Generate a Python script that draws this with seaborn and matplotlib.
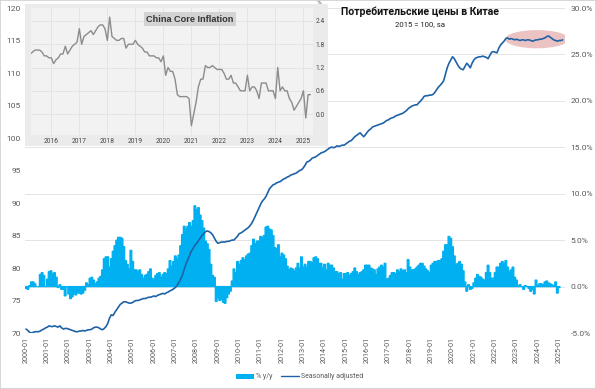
import numpy as np
import pandas as pd
import matplotlib
matplotlib.use("Agg")
import matplotlib.pyplot as plt
import seaborn as sns
from matplotlib.patches import Ellipse, Rectangle, Patch
from matplotlib.lines import Line2D

# ---------------- data ----------------
tick_labels = ["2000-01", "2001-01", "2002-01", "2003-01", "2004-01", "2005-01", "2006-01",
               "2007-01", "2008-01", "2009-01", "2010-01", "2011-01", "2012-01", "2013-01",
               "2014-01", "2015-01", "2016-01", "2017-01", "2018-01", "2019-01", "2020-01",
               "2021-01", "2022-01", "2023-01", "2024-01", "2025-01"]

# % y/y, one value per monthly slot of the chart
yoy_pct = [
    -0.2, -0.3, 0.1, 0.5, 0.5, 0.3, 0.0, 0.0, 1.3, 1.5,
    1.2, 0.0, 0.8, 1.6, 1.7, 1.4, 1.5, 1.0, -0.1, 0.2, -0.3, -0.3,
    -1.0, 0.0, -0.8, -1.3, -1.1, -0.8, -0.9, -0.7, -0.7, -0.8, -0.7, -0.4,
    0.4, 0.2, 0.9, 1.0, 0.7, 0.3, 0.5, 0.9, 1.1, 1.8, 3.0, 3.2,
    3.2, 2.1, 3.0, 3.8, 4.4, 5.0, 5.3, 5.3, 5.2, 4.3, 2.8, 2.4,
    1.9, 3.9, 2.7, 1.8, 1.8, 1.6, 1.8, 1.3, 0.9, 1.2, 1.3, 1.6,
    1.9, 0.9, 0.8, 1.2, 1.4, 1.5, 1.0, 1.3, 1.5, 1.4, 1.9, 2.8,
    2.2, 2.7, 3.3, 3.0, 3.4, 4.4, 5.6, 6.5, 6.2, 6.5, 6.9, 6.5,
    7.1, 8.7, 8.3, 8.5, 7.7, 7.1, 6.3, 4.9, 4.6, 4.0, 2.4, 1.2,
    1.0, -1.6, -1.2, -1.5, -1.4, -1.7, -1.8, -1.2, -0.8, -0.5, 0.6, 1.9,
    1.5, 2.7, 2.4, 2.8, 3.1, 2.9, 3.3, 3.5, 3.6, 4.4, 5.1, 4.6,
    4.9, 4.9, 5.4, 5.3, 5.5, 6.4, 6.5, 6.2, 6.1, 5.5, 4.2, 4.1,
    4.5, 3.2, 3.6, 3.4, 3.0, 2.2, 1.8, 2.0, 1.9, 1.7, 2.0, 2.5,
    2.0, 3.2, 2.1, 2.4, 2.1, 2.7, 2.7, 2.6, 3.1, 3.2, 3.0, 2.5,
    2.5, 2.0, 2.4, 1.8, 2.5, 2.3, 2.3, 2.0, 1.6, 1.6, 1.4, 1.5,
    0.8, 1.4, 1.4, 1.5, 1.2, 1.4, 1.6, 2.0, 1.6, 1.3, 1.5, 1.6,
    1.8, 2.3, 2.3, 2.3, 2.0, 1.9, 1.8, 1.3, 1.9, 2.1, 2.3, 2.1,
    2.5, 0.8, 0.9, 1.2, 1.5, 1.5, 1.4, 1.8, 1.6, 1.9, 1.7, 1.8,
    1.5, 2.9, 2.1, 1.8, 1.8, 1.9, 2.1, 2.3, 2.5, 2.5, 2.2, 1.9,
    1.7, 1.5, 2.3, 2.5, 2.7, 2.7, 2.8, 2.8, 3.0, 3.8, 4.5, 4.5,
    5.4, 5.2, 4.3, 3.3, 2.4, 2.5, 2.7, 2.4, 1.7, 0.5, -0.5, 0.2,
    -0.3, -0.2, 0.4, 0.9, 1.3, 1.1, 1.0, 0.8, 0.7, 1.5, 2.3, 1.5,
    0.9, 0.9, 1.5, 2.1, 2.1, 2.5, 2.7, 2.5, 2.8, 2.1, 1.6, 1.8,
    2.1, 1.0, 0.7, 0.1, 0.2, 0.0, -0.3, 0.1, 0.0, -0.2, -0.5, -0.3,
    -0.8, 0.7, 0.1, 0.3, 0.3, 0.2, 0.5, 0.6, 0.4, 0.3, 0.2, 0.1,
    0.5, -0.7, -0.1,
]

# CPI index, seasonally adjusted (2015 = 100)
cpi_sa = [
    70.6, 70.4, 70.1, 70.0, 70.1, 70.2, 70.2, 70.2, 70.3, 70.5, 70.6, 70.8,
    70.9, 71.1, 71.0, 71.0, 71.1, 71.0, 70.9, 71.1, 70.8, 70.6, 70.7, 70.7,
    70.6, 70.5, 70.4, 70.3, 70.2, 70.2, 70.3, 70.3, 70.4, 70.3, 70.4, 70.5,
    70.5, 70.6, 70.8, 70.9, 70.9, 70.8, 70.6, 70.5, 70.7, 71.0, 71.5, 72.3,
    72.8, 72.7, 73.2, 73.6, 74.0, 74.4, 74.6, 74.8, 74.8, 74.7, 74.6, 74.6,
    74.7, 74.9, 75.0, 75.0, 75.1, 75.2, 75.3, 75.3, 75.4, 75.5, 75.5, 75.6,
    75.7, 75.6, 75.8, 75.9, 76.0, 76.1, 76.0, 76.2, 76.3, 76.5, 76.6, 76.8,
    77.0, 77.3, 77.8, 78.3, 78.9, 79.8, 80.6, 81.3, 81.9, 82.6, 83.0, 83.5,
    83.8, 84.2, 84.6, 85.0, 85.3, 85.6, 85.7, 85.6, 85.4, 85.1, 84.6, 84.1,
    83.8, 83.9, 84.0, 84.0, 84.0, 84.1, 84.1, 84.2, 84.3, 84.3, 84.6, 84.9,
    85.3, 85.4, 85.6, 85.8, 86.0, 86.2, 86.5, 86.9, 87.4, 88.0, 88.6, 89.2,
    89.8, 90.3, 90.6, 91.0, 91.6, 92.2, 92.5, 92.8, 92.9, 93.1, 93.2, 93.3,
    93.5, 93.7, 93.8, 94.0, 94.1, 94.3, 94.4, 94.5, 94.6, 94.8, 95.0, 95.1,
    95.4, 95.8, 96.3, 96.4, 96.6, 96.9, 97.0, 97.1, 97.3, 97.5, 97.7, 97.8,
    97.9, 98.1, 98.3, 98.5, 98.6, 98.5, 98.6, 98.8, 98.7, 98.8, 98.9, 98.9,
    99.1, 99.3, 99.5, 99.6, 99.9, 100.2, 100.4, 100.6, 100.8, 100.5, 100.2, 100.5,
    100.9, 101.2, 101.4, 101.7, 101.8, 101.9, 102.0, 102.1, 102.2, 102.3, 102.5, 102.7,
    102.8, 103.0, 103.1, 103.2, 103.4, 103.5, 103.6, 103.7, 103.8, 104.0, 104.2, 104.5,
    104.7, 104.9, 105.0, 105.1, 105.1, 105.4, 105.7, 106.0, 106.4, 106.5, 106.5, 106.6,
    106.6, 106.7, 107.0, 107.4, 107.8, 108.1, 108.4, 108.8, 109.8, 110.8, 111.5, 112.0,
    112.5, 112.2, 111.7, 111.2, 110.8, 110.6, 110.5, 111.0, 111.5, 111.2, 110.8, 111.5,
    112.0, 112.3, 112.4, 112.5, 112.5, 112.6, 112.5, 112.4, 112.2, 112.7, 113.2, 113.3,
    113.2, 113.1, 113.8, 114.3, 114.6, 114.9, 115.3, 115.4, 115.2, 115.3, 115.2, 115.1,
    115.2, 115.1, 115.0, 115.1, 115.1, 115.0, 115.1, 115.1, 115.0, 114.9, 115.0, 115.1,
    115.1, 115.2, 115.2, 115.3, 115.4, 115.6, 115.7, 115.5, 115.3, 115.1, 115.0, 114.9,
    115.0, 115.0, 115.1,
]

# inset: China core CPI, % y/y, monthly from 2015-04
core_year_labels = ["2016", "2017", "2018", "2019", "2020", "2021", "2022", "2023", "2024", "2025"]
core_cpi = [
    1.55, 1.6, 1.65, 1.65, 1.65, 1.6, 1.5, 1.5, 1.45,
    1.45, 1.3, 1.4, 1.45, 1.55, 1.55, 1.75, 1.55, 1.65, 1.75, 1.8, 1.85,
    2.2, 1.8, 2.0, 2.05, 2.1, 2.15, 2.05, 2.15, 2.25, 2.3, 2.3, 2.2,
    1.9, 2.5, 2.0, 1.95, 1.9, 1.9, 1.95, 1.95, 1.7, 1.8, 1.8, 1.8,
    1.9, 1.8, 1.75, 1.7, 1.6, 1.6, 1.5, 1.5, 1.5, 1.45, 1.45, 1.35,
    1.5, 1.0, 1.2, 1.1, 1.1, 0.9, 0.5, 0.45, 0.45, 0.45, 0.45, 0.4,
    -0.3, 0.0, 0.3, 0.7, 0.9, 0.9, 1.25, 1.2, 1.2, 1.25, 1.2, 1.15,
    1.15, 1.15, 1.05, 0.9, 0.9, 1.0, 0.8, 0.8, 0.7, 0.6, 0.6, 0.6,
    1.0, 0.6, 0.7, 0.7, 0.6, 0.4, 0.8, 0.8, 0.8, 0.6, 0.6, 0.6,
    0.4, 1.2, 0.6, 0.7, 0.6, 0.6, 0.4, 0.3, 0.1, 0.2, 0.3, 0.4,
    0.6, -0.1, 0.5, 0.5,
]

# ---------------- style ----------------
sns.set_theme(style="white")
plt.rcParams["font.family"] = ["Roboto", "DejaVu Sans"]

BAR = "#00B0F0"
LINE = "#1F63A6"
TXT = "#595959"
GRID = "#E4E4E4"

W, H = 596, 389
fig = plt.figure(figsize=(W / 100, H / 100), dpi=100)
fig.patch.set_facecolor("white")

ax = fig.add_axes([25 / W, 56 / H, 540 / W, 325 / H])
ax2 = ax.twinx()
ax.set_zorder(2)
ax2.set_zorder(1)
ax.patch.set_visible(False)
ax2.patch.set_facecolor("white")

bars_df = pd.DataFrame({"m": np.arange(len(yoy_pct)), "yoy": yoy_pct})
line_df = pd.DataFrame({"m": np.arange(len(cpi_sa)), "cpi": cpi_sa})

sns.barplot(data=bars_df, x="m", y="yoy", ax=ax2, native_scale=True, width=1.0,
            color=BAR, saturation=1, errorbar=None, linewidth=0)
for p in ax2.patches:
    p.set_snap(False)
    p.set_antialiased(True)
    p.set_edgecolor(BAR)
    p.set_linewidth(0.9)
    p.set_joinstyle("miter")
sns.lineplot(data=line_df, x="m", y="cpi", ax=ax, color=LINE, linewidth=1.2, zorder=3)

ax.add_patch(Ellipse((287.5, 115.2), width=36, height=2.8, facecolor="#EBC3C3",
                     edgecolor="none", zorder=1))

ax.set_xlim(-0.6, 303.3)
ax.set_ylim(70, 120)
ax2.set_ylim(-5, 30)
ax.set_yticks(np.arange(70, 121, 5))
ax2.set_yticks(np.arange(-5, 31, 5))
ax2.set_yticklabels([f"{v:.1f}%" for v in np.arange(-5, 31, 5)])
ax2.yaxis.grid(True, color=GRID, linewidth=0.7)
ax2.set_axisbelow(True)
ax.grid(False)

ax.set_xticks(np.arange(0, 301, 12))
ax.set_xticklabels(tick_labels, rotation=90, fontsize=5.2, color=TXT)
ax.tick_params(axis="x", length=0, pad=3)
ax.tick_params(axis="y", length=0, pad=3, labelsize=6, labelcolor=TXT)
ax2.tick_params(axis="y", length=0, pad=4, labelsize=6, labelcolor=TXT)
for a in (ax, ax2):
    a.set_xlabel("")
    a.set_ylabel("")
    for s in a.spines.values():
        s.set_visible(False)

fig.text(420 / W, 1 - 12 / H, "Потребительские цены в Китае", ha="center", va="center",
         fontsize=7.6, fontweight="bold", color="#111111", zorder=10)
fig.text(420 / W, 1 - 24.5 / H, "2015 = 100, sa", ha="center", va="center",
         fontsize=5.6, color="#222222", zorder=10)

handles = [Patch(facecolor=BAR, edgecolor="none"), Line2D([0], [0], color=LINE, lw=1)]
fig.legend(handles, ["% y/y", "Seasonally adjusted"], loc="center", ncol=2,
           bbox_to_anchor=(300 / W, 1 - 377 / H), frameon=False, fontsize=5,
           handlelength=2.6, handletextpad=0.3, columnspacing=1.2, labelcolor=TXT)

# ---------------- inset ----------------
fig.patches.append(Rectangle((25 / W, 1 - 146 / H), 303 / W, 142 / H, transform=fig.transFigure,
                             facecolor="#EBEBEB", edgecolor="none", zorder=2))
axi = fig.add_axes([31 / W, 254 / H, 282 / W, 127 / H])
axi.set_zorder(3)
axi.set_facecolor("#F2F2F2")
core_df = pd.DataFrame({"m": np.arange(3, 3 + len(core_cpi)), "core": core_cpi})
sns.lineplot(data=core_df, x="m", y="core", ax=axi, color="#8C8C8C", linewidth=1.0)
axi.set_xlim(3.3, 124.1)
axi.set_ylim(-0.54, 2.735)
axi.set_xticks(np.arange(12, 121, 12))
axi.set_xticklabels(core_year_labels, fontsize=4.8, color="#444444")
axi.set_yticks([0.0, 0.6, 1.2, 1.8, 2.4])
axi.set_yticklabels(["0.0", "0.6", "1.2", "1.8", "2.4"], fontsize=4.8, color="#444444")
axi.yaxis.tick_right()
axi.tick_params(length=0, pad=2)
axi.grid(True, color="#E2E2E2", linewidth=0.6)
axi.set_xlabel("")
axi.set_ylabel("")
for s in axi.spines.values():
    s.set_visible(False)
fig.text(319 / W, 1 - 2.5 / H, "%", ha="center", va="center", fontsize=4.5, color="#444444", zorder=10)
fig.text(190 / W, 1 - 19 / H, "China Core Inflation", ha="center", va="center",
         fontsize=6.6, fontweight="bold", color="#333333", family=["Liberation Sans", "DejaVu Sans"],
         zorder=10, bbox=dict(boxstyle="square,pad=0.25", facecolor="#D3D3D3", edgecolor="none"))

fig.patches.append(Rectangle((0, 0), 1, 1, transform=fig.transFigure, facecolor="none",
                             edgecolor="#D0D0D0", linewidth=1.2, zorder=20))

fig.savefig("out.png", dpi=100)
